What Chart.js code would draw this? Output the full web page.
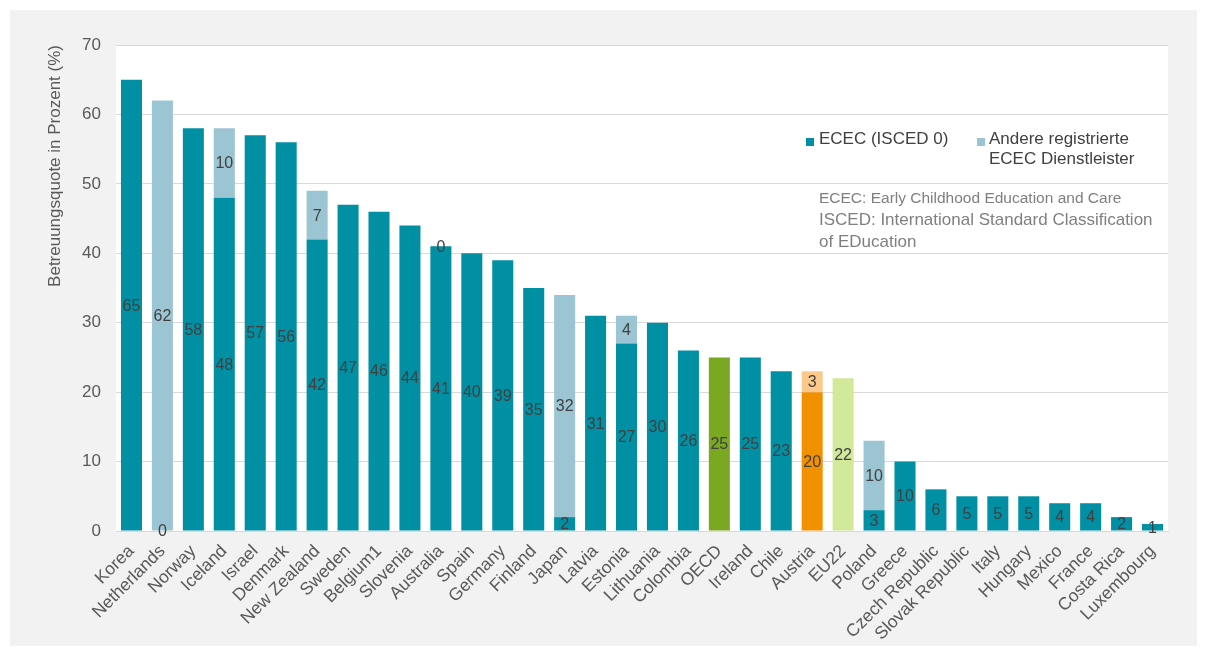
<!DOCTYPE html>
<html>
<head>
<meta charset="utf-8">
<script src="https://cdn.jsdelivr.net/npm/chart.js@4.4.1/dist/chart.umd.min.js"></script>
<style>
  html, body { margin: 0; padding: 0; background: #fff; }
  #panel { position: absolute; left: 10px; top: 10px; width: 1187px; height: 636px; background: #f2f2f2; }
  #wrap { position: absolute; left: 0; top: 0; width: 1205px; height: 650px; }
  .lg { position: absolute; font-family: "Liberation Sans", Arial, sans-serif; font-size: 17px; color: #404040; line-height: 20px; }
  .sw { position: absolute; width: 8px; height: 8px; }
  .note { position: absolute; color: #7f7f7f; font-family: "Liberation Sans", Arial, sans-serif; white-space: nowrap; }
</style>
</head>
<body>
<div id="panel"></div>
<div id="wrap"><canvas id="chart" width="1205" height="650"></canvas></div>

<div class="sw" style="left:806px;top:138px;background:#008fa3"></div>
<div class="lg" style="left:819px;top:129px">ECEC (ISCED 0)</div>
<div class="sw" style="left:977px;top:138px;background:#9cc5d3"></div>
<div class="lg" style="left:989px;top:129px">Andere registrierte<br>ECEC Dienstleister</div>

<div class="note" style="left:819px;top:189px;font-size:15.5px">ECEC: Early Childhood Education and Care</div>
<div class="note" style="left:819px;top:209px;font-size:17px;line-height:22px">ISCED: International Standard Classification<br>of EDucation</div>

<script>
  const categories = [
    "Korea", "Netherlands", "Norway", "Iceland", "Israel", "Denmark", "New Zealand",
    "Sweden", "Belgium1", "Slovenia", "Australia", "Spain", "Germany", "Finland",
    "Japan", "Latvia", "Estonia", "Lithuania", "Colombia", "OECD", "Ireland", "Chile",
    "Austria", "EU22", "Poland", "Greece", "Czech Republic", "Slovak Republic", "Italy",
    "Hungary", "Mexico", "France", "Costa Rica", "Luxembourg"
  ];
  const ececValues = [
    65, 0, 58, 48, 57, 56, 42, 47, 46, 44, 41, 40, 39, 35, 2, 31, 27, 30, 26, 25,
    25, 23, 20, 22, 3, 10, 6, 5, 5, 5, 4, 4, 2, 1
  ];
  const otherValues = [
    null, 62, null, 10, null, null, 7, null, null, null, 0, null, null, null, 32, null,
    4, null, null, null, null, null, 3, null, 10, null, null, null, null, null, null,
    null, null, null
  ];
  const yTicks = [0, 10, 20, 30, 40, 50, 60, 70];

  const TEAL = "#008fa3";
  const LIGHT = "#9cc5d3";
  const ececSpecial = { "OECD": "#7aa823", "Austria": "#f29100", "EU22": "#d2e89a" };
  const otherSpecial = { "Austria": "#fdc98b" };

  const ececColors = categories.map((c) => ececSpecial[c] || TEAL);
  const otherColors = categories.map((c) => otherSpecial[c] || LIGHT);

  const plotBg = {
    id: "plotBg",
    beforeDraw(chart) {
      const { ctx, chartArea: a } = chart;
      ctx.save();
      ctx.fillStyle = "#ffffff";
      ctx.fillRect(a.left, a.top, a.right - a.left, a.bottom - a.top);
      ctx.restore();
    }
  };

  // value labels in the middle of each segment
  const valueLabels = {
    id: "valueLabels",
    afterDatasetsDraw(chart) {
      const { ctx } = chart;
      ctx.save();
      ctx.font = "16px 'Liberation Sans', Arial, sans-serif";
      ctx.fillStyle = "#404040";
      ctx.textAlign = "center";
      ctx.textBaseline = "middle";
      chart.data.datasets.forEach((ds, di) => {
        chart.getDatasetMeta(di).data.forEach((bar, i) => {
          const v = ds.data[i];
          if (v === null || v === undefined) return;
          ctx.fillText(String(v), bar.x, (bar.y + bar.base) / 2 + 1);
        });
      });
      ctx.restore();
    }
  };

  new Chart(document.getElementById("chart"), {
    type: "bar",
    data: {
      labels: categories,
      datasets: [
        {
          label: "ECEC (ISCED 0)",
          data: ececValues,
          backgroundColor: ececColors,
          borderWidth: 0,
          barPercentage: 0.68,
          categoryPercentage: 1
        },
        {
          label: "Andere registrierte ECEC Dienstleister",
          data: otherValues,
          backgroundColor: otherColors,
          borderWidth: 0,
          barPercentage: 0.68,
          categoryPercentage: 1
        }
      ]
    },
    options: {
      responsive: false,
      animation: false,
      layout: { padding: { top: 45, right: 37, left: 0, bottom: 0 } },
      plugins: {
        legend: { display: false },
        tooltip: { enabled: false }
      },
      scales: {
        x: {
          stacked: true,
          afterFit: (s) => { s.height = 119; },
          grid: { display: false },
          border: { color: "#d9d9d9" },
          ticks: {
            autoSkip: false,
            maxRotation: 45,
            minRotation: 45,
            padding: 2,
            color: "#595959",
            font: { family: "'Liberation Sans', Arial, sans-serif", size: 17.5 }
          }
        },
        y: {
          stacked: true,
          min: 0,
          max: 70,
          afterFit: (s) => { s.width = 116; },
          afterBuildTicks: (s) => { s.ticks = yTicks.map((v) => ({ value: v })); },
          border: { display: false },
          grid: { color: "#d9d9d9", drawTicks: false },
          ticks: {
            padding: 15,
            color: "#595959",
            font: { family: "'Liberation Sans', Arial, sans-serif", size: 17 }
          },
          title: {
            display: true,
            text: "Betreuungsquote in Prozent (%)",
            align: "end",
            color: "#595959",
            padding: { top: 45, bottom: 0 },
            font: { family: "'Liberation Sans', Arial, sans-serif", size: 17 }
          }
        }
      }
    },
    plugins: [plotBg, valueLabels]
  });
</script>
</body>
</html>
